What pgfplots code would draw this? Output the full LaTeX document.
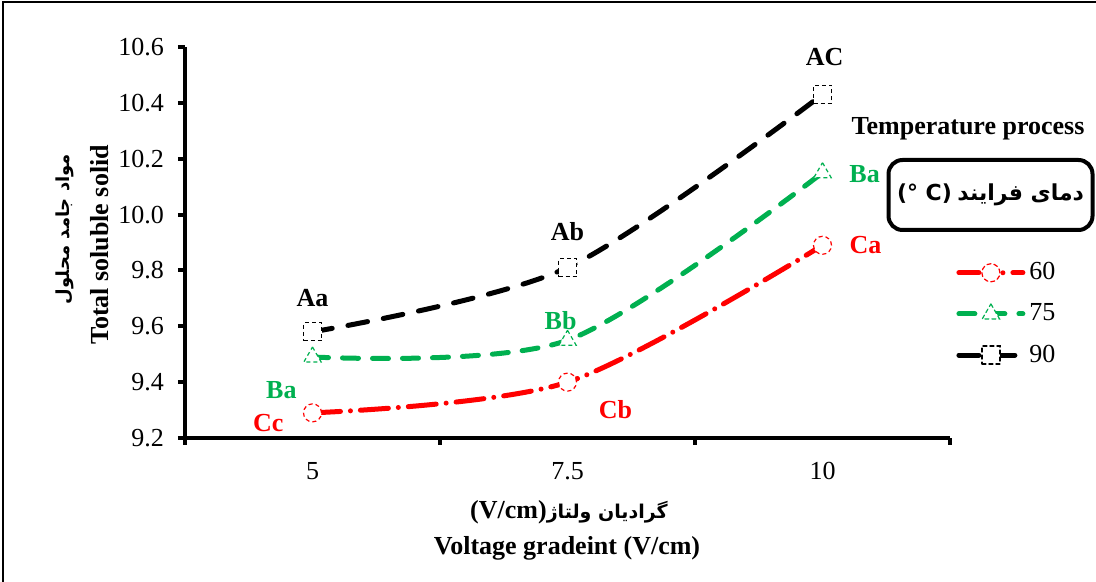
\documentclass[border=0pt]{standalone}
\usepackage{fontspec}
\setmainfont{Liberation Serif}
\newfontfamily\arabicfont[Script=Arabic]{DejaVu Sans}
\newfontfamily\dejavu{DejaVu Sans}
\TeXXeTstate=1
\usepackage{pgfplots}
\usepackage{pgfplotstable}
\pgfplotsset{compat=1.18}
\definecolor{xlgreen}{RGB}{0,176,80}
\newcommand\ff{\fontsize{13}{15}\selectfont}
\newcommand\px[2]{({(#1-185)*0.5pt},{(438-#2)*0.5pt})}
\pgfplotstableread{
x y60 y75 y90
1 9.29 9.49 9.58
2 9.40 9.55 9.81
3 9.89 10.15 10.43
}\datatable
\begin{document}
\begin{tikzpicture}
\useasboundingbox (-92.5pt,-72pt) rectangle (455.5pt,219pt);
\begin{axis}[
  scale only axis, width=382.5pt, height=195.5pt,
  xmin=0.5, xmax=3.5, ymin=9.2, ymax=10.6,
  axis x line*=bottom, axis y line*=left,
  axis line style={-, line width=2pt},
  xtick={1,2,3}, xticklabels={5,7.5,10},
  minor xtick={0.5,1.5,2.5,3.5},
  major x tick style={draw=none},
  ytick={9.2,9.4,9.6,9.8,10.0,10.2,10.4,10.6},
  yticklabels={9.2,9.4,9.6,9.8,10.0,10.2,10.4,10.6},
  tick align=outside,
  major tick length=3.5pt, minor tick length=3.5pt,
  tick style={line width=2pt, black},
  ticklabel style={font=\ff},
  yticklabel style={xshift=-3.5pt},
  xticklabel style={yshift=-5pt},
  clip=false,
  legend style={font=\ff, draw=none, fill=none, at={(1,0.47)}, anchor=north west, legend cell align=left, row sep=6.5pt},
  legend image code/.code={\draw[#1, mark=none] (0pt,0pt) -- (32pt,0pt); \draw[#1, draw=none] plot coordinates {(16pt,0pt)};},
]
\addplot[forget plot, red, line width=2.5pt, smooth, line cap=round, dash pattern=on 14pt off 5pt on 0pt off 5pt] table[x=x,y=y60]{\datatable};
\addplot[forget plot, xlgreen, line width=2.5pt, smooth, line cap=round, dash pattern=on 8pt off 7pt] table[x=x,y=y75]{\datatable};
\addplot[forget plot, black, line width=2.5pt, smooth, line cap=round, dash pattern=on 10pt off 8pt] table[x=x,y=y90]{\datatable};
\addplot[forget plot, only marks, mark=*, mark size=4.5pt, mark options={fill=white, draw=red, line width=0.6pt, dash pattern=on 2pt off 1.5pt}] table[x=x,y=y60]{\datatable};
\addplot[forget plot, only marks, mark=triangle*, mark size=5pt, mark options={fill=white, draw=xlgreen, line width=0.6pt, dash pattern=on 2pt off 1.5pt}] table[x=x,y=y75]{\datatable};
\addplot[forget plot, only marks, mark=square*, mark size=4.5pt, mark options={fill=white, draw=black, line width=0.6pt, dash pattern=on 2pt off 1.5pt}] table[x=x,y=y90]{\datatable};
\addlegendimage{red, line width=2.5pt, line cap=round, dash pattern=on 10pt off 12pt on 0pt off 5pt, mark=*, mark size=4.5pt, mark options={fill=white, draw=red, line width=0.6pt, dash pattern=on 2pt off 1.5pt}}
\addlegendentry{60}
\addlegendimage{xlgreen, line width=2.5pt, line cap=round, dash pattern=on 8pt off 7pt, mark=triangle*, mark size=5pt, mark options={fill=white, draw=xlgreen, line width=0.6pt, dash pattern=on 2pt off 1.5pt}}
\addlegendentry{75}
\addlegendimage{black, line width=2.5pt, line cap=round, dash pattern=on 10pt off 8pt, mark=square*, mark size=4.5pt, mark options={fill=white, draw=black, line width=0.6pt, dash pattern=on 2pt off 1.5pt}}
\addlegendentry{90}
\node[font=\ff\bfseries, text=black] at (axis cs:1,9.701) {Aa};
\node[font=\ff\bfseries, text=black] at (axis cs:2,9.938) {Ab};
\node[font=\ff\bfseries, text=black] at (axis cs:3.008,10.564) {AC};
\node[font=\ff\bfseries, text=xlgreen] at (axis cs:0.878,9.372) {Ba};
\node[font=\ff\bfseries, text=xlgreen] at (axis cs:1.973,9.622) {Bb};
\node[font=\ff\bfseries, text=xlgreen] at (axis cs:3.165,10.145) {Ba};
\node[font=\ff\bfseries, text=red] at (axis cs:0.827,9.254) {Cc};
\node[font=\ff\bfseries, text=red] at (axis cs:2.188,9.30) {Cb};
\node[font=\ff\bfseries, text=red] at (axis cs:3.169,9.891) {Ca};
\end{axis}
\draw[line width=1.2pt] (-91pt,-72pt) -- (-91pt,218pt) -- (456pt,218pt);
\node[rotate=90, font=\ff\bfseries] at \px{100}{245} {Total soluble solid};
\node[rotate=90, font=\fontsize{9}{11}\selectfont] at \px{65}{229} {\arabicfont\bfseries\beginR مواد جامد محلول\endR};
\node[font=\ff\bfseries] at \px{567}{548} {Voltage gradeint (V/cm)};
\node[font=\ff\bfseries] at \px{569}{512} {(V/cm)\hspace{0pt}{\arabicfont\fontsize{9.5}{12}\selectfont\bfseries\beginR گرادیان ولتاژ\endR}};
\node[font=\ff\bfseries] at \px{968}{129} {Temperature process};
\node[draw, line width=2pt, rounded corners=7pt, minimum width=102pt, minimum height=35pt, inner sep=0pt] at \px{990.5}{195} {\fontsize{11}{13}\selectfont{\dejavu\bfseries (° C)} {\arabicfont\bfseries\beginR دمای فرایند\endR}};
\end{tikzpicture}
\end{document}
